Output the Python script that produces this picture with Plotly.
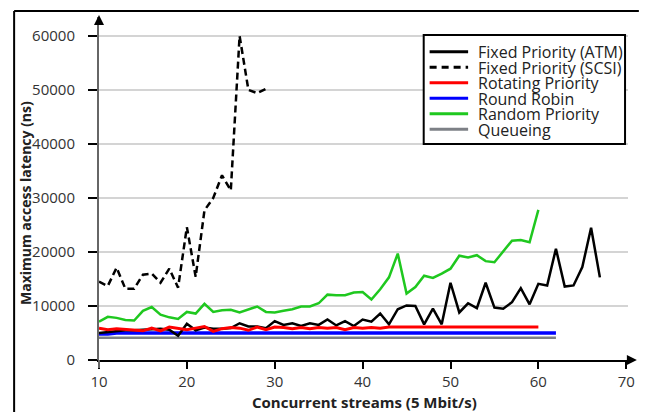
import plotly.graph_objects as go

# ---------------- data (values in ns) ----------------
x_atm = list(range(10, 68))
atm = [5000, 5200, 5300, 5500, 5500, 5600, 5700, 5800, 5600, 4500,
       6700, 5500, 6000, 5800, 5800, 5900, 6800, 6200, 6200, 5900,
       7200, 6500, 6800, 6300, 6800, 6500, 7500, 6400, 7200, 6300,
       7500, 7100, 8600, 6600, 9400, 10100, 10000, 6600, 9500, 6600,
       14300, 8800, 10500, 9600, 14300, 9700, 9500, 10700, 13300, 10300,
       14100, 13800, 20600, 13600, 13800, 17200, 24500, 15300]

x_scsi = list(range(10, 30))
scsi = [14500, 13700, 17100, 13200, 13200, 15800, 16000, 14300, 16900, 13400,
        24600, 15400, 27700, 30000, 34200, 31400, 60000, 50000, 49400, 50200]

x_rot = list(range(10, 61))
rotating = [5900, 5600, 5800, 5700, 5500, 5400, 5900, 5400, 6100, 5800,
            5600, 5900, 6200, 5300, 5800, 6000, 5900, 5500, 6100, 5600,
            6100, 6000, 5800, 6000, 5800, 6000, 5900, 6000, 5600, 6000,
            5900, 6000, 5900, 6100, 6100, 6100, 6100, 6100, 6100, 6100,
            6100, 6100, 6100, 6100, 6100, 6100, 6100, 6100, 6100, 6100,
            6100]

x_rr = list(range(10, 63))
round_robin = [4800, 4800, 5000, 5000, 5000, 5000, 5000, 5000, 5000, 5000,
               5000, 5000, 5000, 5000, 5000, 5000, 5000, 5000, 5000, 5000,
               5000, 5000, 5000, 5000, 5000, 5000, 5000, 5000, 5000, 5000,
               5000, 5000, 5000, 5000, 5000, 5000, 5000, 5000, 5000, 5000,
               5000, 5000, 5000, 5000, 5000, 5000, 5000, 5000, 5000, 5000,
               5000, 5000, 5000]

x_rand = list(range(10, 61))
random_prio = [7100, 8000, 7800, 7400, 7300, 9100, 9800, 8400, 7900, 7600,
               8900, 8600, 10400, 8900, 9200, 9300, 8800, 9300, 9900, 8900,
               8800, 9100, 9400, 9900, 9900, 10500, 12100, 12000, 12000, 12500,
               12600, 11200, 13100, 15300, 19700, 12300, 13500, 15600, 15200, 16000,
               16900, 19300, 19000, 19400, 18300, 18100, 20000, 22100, 22200, 21800,
               27800]

x_q = list(range(10, 63))
queueing = [4100, 4100, 4100, 4100, 4100, 4100, 4100, 4100, 4100, 4100,
            4100, 4100, 4100, 4100, 4100, 4100, 4100, 4100, 4100, 4100,
            4100, 4100, 4100, 4100, 4100, 4100, 4100, 4100, 4100, 4100,
            4100, 4100, 4100, 4100, 4100, 4100, 4100, 4100, 4100, 4100,
            4100, 4100, 4100, 4100, 4100, 4100, 4100, 4100, 4100, 4100,
            4100, 4100, 4100]

x_ticks = [10, 20, 30, 40, 50, 60, 70]
y_ticks = [0, 10000, 20000, 30000, 40000, 50000, 60000]

x_title = "Concurrent streams (5 Mbit/s)"
y_title = "Maximum access latency (ns)"

# ---------------- styles ----------------
FONT = "Open Sans"
series = [
    dict(name="Queueing", x=x_q, y=queueing, color="#7d8086", width=2.5, dash="solid"),
    dict(name="Round Robin", x=x_rr, y=round_robin, color="#0000ff", width=3.5, dash="solid"),
    dict(name="Fixed Priority (ATM)", x=x_atm, y=atm, color="#000000", width=2.5, dash="solid"),
    dict(name="Rotating Priority", x=x_rot, y=rotating, color="#ff0000", width=3, dash="solid"),
    dict(name="Random Priority", x=x_rand, y=random_prio, color="#1fc81f", width=2.5, dash="solid"),
    dict(name="Fixed Priority (SCSI)", x=x_scsi, y=scsi, color="#000000", width=2.5, dash="7px,4px"),
]
legend_order = ["Fixed Priority (ATM)", "Fixed Priority (SCSI)", "Rotating Priority",
                "Round Robin", "Random Priority", "Queueing"]

fig = go.Figure()
for s in series:
    fig.add_trace(go.Scatter(x=s["x"], y=s["y"], mode="lines", name=s["name"],
                             line=dict(color=s["color"], width=s["width"], dash=s["dash"]),
                             showlegend=False, hoverinfo="skip"))

# pixel geometry
L, R, T, B = 99, 635, 17, 360
W, H = R - L, B - T


def px(xp):
    return (xp - L) / W


def py(yp):
    return (B - yp) / H


shapes = []
annotations = []

# outer frame (top and left black border of the screenshot)
shapes.append(dict(type="line", xref="paper", yref="paper", x0=px(13), x1=px(646), y0=py(11), y1=py(11),
                   line=dict(color="black", width=2)))
shapes.append(dict(type="line", xref="paper", yref="paper", x0=px(13), x1=px(13), y0=py(11), y1=py(413),
                   line=dict(color="black", width=2)))
# y-axis extension below zero
shapes.append(dict(type="line", xref="paper", yref="paper", x0=0, x1=0, y0=0, y1=py(368),
                   line=dict(color="#666666", width=2)))
# axis arrows
annotations.append(dict(xref="paper", yref="paper", x=0, y=py(15), ax=0, ay=9, text="",
                        showarrow=True, arrowhead=2, arrowsize=1, arrowwidth=2, arrowcolor="black"))
annotations.append(dict(xref="paper", yref="paper", x=px(644), y=0, ax=-9, ay=0, text="",
                        showarrow=True, arrowhead=2, arrowsize=1, arrowwidth=2, arrowcolor="black"))

# axis titles
annotations.append(dict(xref="paper", yref="paper", x=px(368), y=py(402), text="<b>" + x_title + "</b>",
                        showarrow=False, xanchor="center", yanchor="middle",
                        font=dict(family=FONT, size=15, color="#222222")))
annotations.append(dict(xref="paper", yref="paper", x=px(24), y=py(203), text="<b>" + y_title + "</b>",
                        showarrow=False, xanchor="center", yanchor="middle", textangle=-90,
                        font=dict(family=FONT, size=14, color="#222222")))

# manual legend
shapes.append(dict(type="rect", xref="paper", yref="paper", x0=px(428), x1=px(632), y0=py(35), y1=py(144),
                   line=dict(color="black", width=2), fillcolor="white", layer="above"))
style = {s["name"]: s for s in series}
for i, name in enumerate(legend_order):
    s = style[name]
    yc = 51.7 + i * 15.5
    shapes.append(dict(type="line", xref="paper", yref="paper", x0=px(434), x1=px(473), y0=py(yc), y1=py(yc),
                       line=dict(color=s["color"], width=3,
                                 dash="7px,5px" if s["dash"] != "solid" else "solid"), layer="above"))
    annotations.append(dict(xref="paper", yref="paper", x=px(481), y=py(yc + 0.5), text=name,
                            showarrow=False, xanchor="left", yanchor="middle",
                            font=dict(family=FONT, size=16, color="#222222")))

fig.update_layout(
    width=645, height=412,
    margin=dict(l=L, r=645 - R, t=T, b=412 - B, pad=0),
    paper_bgcolor="white", plot_bgcolor="white",
    font=dict(family=FONT, color="#333333"),
    xaxis=dict(range=[10, 70.2], tickvals=x_ticks, ticktext=[str(v) for v in x_ticks],
               showgrid=False, zeroline=False, showline=True, linecolor="black", linewidth=2,
               ticks="outside", ticklen=7, tickwidth=2, tickcolor="black",
               tickfont=dict(family=FONT, size=15, color="#333333")),
    yaxis=dict(range=[0, 63500], tickvals=y_ticks, ticktext=[str(v) for v in y_ticks],
               showgrid=True, gridcolor="#d4d4d4", gridwidth=2, zeroline=False,
               showline=True, linecolor="#666666", linewidth=2,
               ticks="outside", ticklen=9, tickwidth=2, tickcolor="black", ticklabelstandoff=10,
               tickfont=dict(family=FONT, size=15, color="#333333")),
    shapes=shapes,
    annotations=annotations,
)

fig.write_html("out.html")
